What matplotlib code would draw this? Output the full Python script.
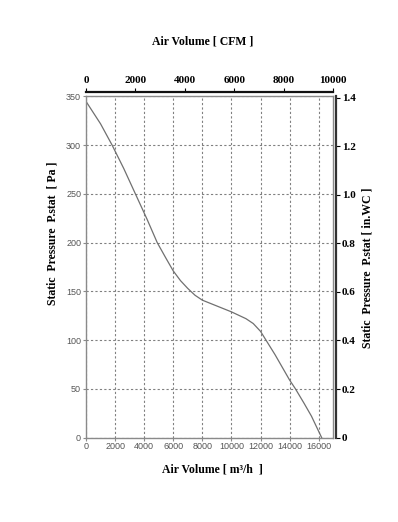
import numpy as np
import matplotlib
matplotlib.use("Agg")
import matplotlib.pyplot as plt
from matplotlib.ticker import FixedLocator, FixedFormatter

# fan curve
flow_m3h = [0, 1000, 1800, 2600, 3400, 4200, 4900, 5500, 6000, 6500, 7000, 7500, 8000,
            9000, 10000, 11000, 11500, 12000, 12500, 13000, 13500, 14000, 14400, 15000,
            15500, 16200]
pressure_pa = [345, 322, 300, 276, 250, 224, 200, 184, 171, 161, 153, 146, 141,
               135, 129, 122, 117, 109, 97, 85, 72, 59, 50, 35, 22, 0]

x_ticks = [0, 2000, 4000, 6000, 8000, 10000, 12000, 14000, 16000]
y_ticks = [0, 50, 100, 150, 200, 250, 300, 350]
cfm_ticks = [0, 2000, 4000, 6000, 8000, 10000]
inwc_ticks = [0, 0.2, 0.4, 0.6, 0.8, 1.0, 1.2, 1.4]
inwc_labels = ['0', '0.2', '0.4', '0.6', '0.8', '1.0', '1.2', '1.4']

M3H_PER_CFM = 1.699
PA_PER_INWC = 249.09

serif = ['Liberation Serif', 'DejaVu Serif']
sans = ['Liberation Sans', 'DejaVu Sans']

fig = plt.figure(figsize=(3.98, 5.22), dpi=100)
ax = fig.add_axes([0.216, 0.1617, 0.621, 0.6535])

ax.plot(flow_m3h, pressure_pa, color='#707070', lw=0.9)
ax.set_xlim(0, 10000 * M3H_PER_CFM)
ax.set_ylim(0, 350)
ax.set_xticks(x_ticks)
ax.set_yticks(y_ticks)
ax.grid(True, color='#808080', linestyle=(0, (2, 2)), linewidth=0.8)
for s in ax.spines.values():
    s.set_color('#8a8a8a')
    s.set_linewidth(1.0)
ax.tick_params(length=2, width=0.8, color='#8a8a8a', pad=1.5, labelsize=6.5,
               labelcolor='#555555')
for lab in ax.get_xticklabels() + ax.get_yticklabels():
    lab.set_family(sans)

# top axis in CFM
top = ax.secondary_xaxis(1.013, functions=(lambda v: v / M3H_PER_CFM, lambda v: v * M3H_PER_CFM))
top.xaxis.set_major_locator(FixedLocator(cfm_ticks))
top.spines['top'].set_linewidth(1.6)
top.spines['top'].set_color('#111111')
top.tick_params(direction='out', length=3, width=0.8, pad=2, labelsize=8)
for lab in top.get_xticklabels():
    lab.set_family(serif)
    lab.set_fontweight('bold')

# right axis in in.WC
right = ax.secondary_yaxis(1.012, functions=(lambda v: v / PA_PER_INWC, lambda v: v * PA_PER_INWC))
right.yaxis.set_major_locator(FixedLocator(inwc_ticks))
right.yaxis.set_major_formatter(FixedFormatter(inwc_labels))
right.spines['right'].set_linewidth(1.6)
right.spines['right'].set_color('#333333')
right.tick_params(direction='out', length=3, width=0.8, pad=1, labelsize=8)
for lab in right.get_yticklabels():
    lab.set_family(serif)
    lab.set_fontweight('bold')

fig.text(203 / 398, 1 - 41 / 522, 'Air Volume [ CFM ]', ha='center', va='center',
         family=serif, weight='bold', fontsize=8.5)
fig.text(212 / 398, 1 - 470 / 522, 'Air Volume [ m³/h  ]', ha='center', va='center',
         family=serif, weight='bold', fontsize=8.5)
fig.text(53 / 398, 1 - 233 / 522, 'Static  Pressure  P.stat  [ Pa ]', ha='center', va='center',
         rotation=90, family=serif, weight='bold', fontsize=8.5)
fig.text(368 / 398, 1 - 268 / 522, 'Static  Pressure  P.stat [ in.WC ]', ha='center', va='center',
         rotation=90, family=serif, weight='bold', fontsize=8.5)

fig.savefig('out.png', dpi=100)
